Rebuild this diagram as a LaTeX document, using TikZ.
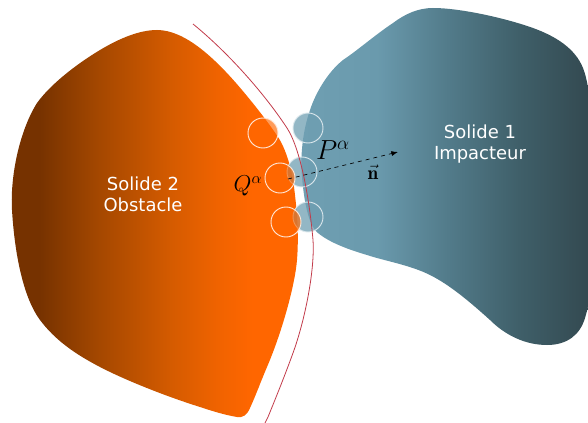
\documentclass[tikz,border=0pt]{standalone}
\usepackage{fontspec}
\setsansfont{DejaVu Sans}
\usepackage{amsmath, amssymb}
\usetikzlibrary{arrows.meta}
\definecolor{col1}{HTML}{C23B4A}
\definecolor{col2}{HTML}{FF6600}
\definecolor{col3}{HTML}{6F9FB2}
\definecolor{col4}{HTML}{763200}
\definecolor{col5}{HTML}{A34700}
\definecolor{col6}{HTML}{D55B00}
\definecolor{col7}{HTML}{F06300}
\definecolor{col8}{HTML}{6A9AAD}
\definecolor{col9}{HTML}{527B8A}
\definecolor{col10}{HTML}{3F5F69}
\definecolor{col11}{HTML}{32474E}
\pgfdeclarehorizontalshading{obstacleshade}{100bp}{color(0bp)=(col4); color(30bp)=(col4); color(40bp)=(col5); color(53bp)=(col6); color(61bp)=(col7); color(67bp)=(col2); color(100bp)=(col2)}
\pgfdeclarehorizontalshading{impacteurshade}{100bp}{color(0bp)=(col3); color(25bp)=(col3); color(38bp)=(col8); color(50bp)=(col9); color(62bp)=(col10); color(75bp)=(col11); color(100bp)=(col11)}

\begin{document}
\begin{tikzpicture}[x=0.0264cm, y=-0.0264cm]
    \tikzstyle{cno} += [draw=white!85!col2, fill=col2, fill opacity=0.65, circle, minimum size=30*0.0264cm, inner sep=0pt, line width=0.7pt];
    \tikzstyle{cnb} += [draw=white!75!col3, fill=col3, fill opacity=0.75, circle, minimum size=30*0.0264cm, inner sep=0pt, line width=0.7pt];
    \tikzstyle{lab} += [text=white, font=\sffamily\fontsize{13.5}{15.8}\selectfont, align=center];
    \useasboundingbox (0,0) rectangle (588,423);

    % solide 2
    \path[shading=obstacleshade]
      (157,30) .. controls (185,30) and (215,58) .. (242,90)
      .. controls (258,109) and (270,125) .. (278,137)
      .. controls (286,149) and (292,170) .. (294,187)
      .. controls (297,210) and (299,235) .. (297,260)
      .. controls (295,285) and (282,332) .. (267,367)
      .. controls (261,381) and (256,395) .. (250,408)
      .. controls (247,415) and (243,418) .. (237,417)
      .. controls (225,415) and (212,411) .. (200,407)
      .. controls (165,396) and (125,380) .. (100,367)
      .. controls (75,354) and (55,340) .. (40,320)
      .. controls (25,300) and (15,260) .. (12,210)
      .. controls (10,175) and (20,130) .. (37,103)
      .. controls (50,85) and (75,65) .. (100,50)
      .. controls (120,38) and (140,30) .. (157,30) -- cycle;

    % solide 1
    \path[shading=impacteurshade]
      (433,8) .. controls (460,8) and (505,18) .. (533,28)
      .. controls (555,36) and (575,48) .. (583,68)
      .. controls (592,90) and (594,150) .. (595,200)
      .. controls (596,240) and (595,285) .. (585,318)
      .. controls (580,335) and (567,345) .. (547,345)
      .. controls (525,345) and (505,335) .. (490,320)
      .. controls (470,302) and (450,285) .. (430,275)
      .. controls (410,265) and (385,261) .. (367,255)
      .. controls (350,250) and (330,243) .. (318,233)
      .. controls (308,225) and (304,200) .. (302,177)
      .. controls (300,155) and (303,130) .. (310,110)
      .. controls (316,92) and (328,72) .. (343,60)
      .. controls (358,50) and (375,35) .. (393,23)
      .. controls (405,14) and (418,8) .. (433,8) -- cycle;

    \node (P1) at (308,128) [cnb]{};
    \node (P2) at (302,172) [cnb]{};
    \node (P3) at (308,217) [cnb]{};
    \node (Q1) at (263,133) [cno]{};
    \node (Q2) at (280,178) [cno]{};
    \node (Q3) at (286,222) [cno]{};

    % surface
    \draw[col1, line width=0.6pt] (193,24) .. controls (225,50) and (262,90) .. (287,128)
      .. controls (300,148) and (309,195) .. (313,240)
      .. controls (315,270) and (305,320) .. (293,353)
      .. controls (285,375) and (277,395) .. (268,417) -- (265,423);

    \coordinate (n0) at (288,179);
    \coordinate (n1) at (398,152);
    \draw[dashed, -{Latex[length=5pt]}, black, line width=0.5pt] (n0) -- (n1);

    \node (s2) at (143,194) [lab]{Solide 2\\Obstacle};
    \node (s1) at (480,144) [lab]{Solide 1\\Impacteur};
    \node (Qa) at (248,186) [font=\LARGE]{$Q^{\alpha}$};
    \node (Pa) at (333,150) [font=\huge]{$P^{\alpha}$};
    \node (nv) at (373,172) [font=\Large]{$\vec{\mathbf{n}}$};
\end{tikzpicture}
\end{document}
